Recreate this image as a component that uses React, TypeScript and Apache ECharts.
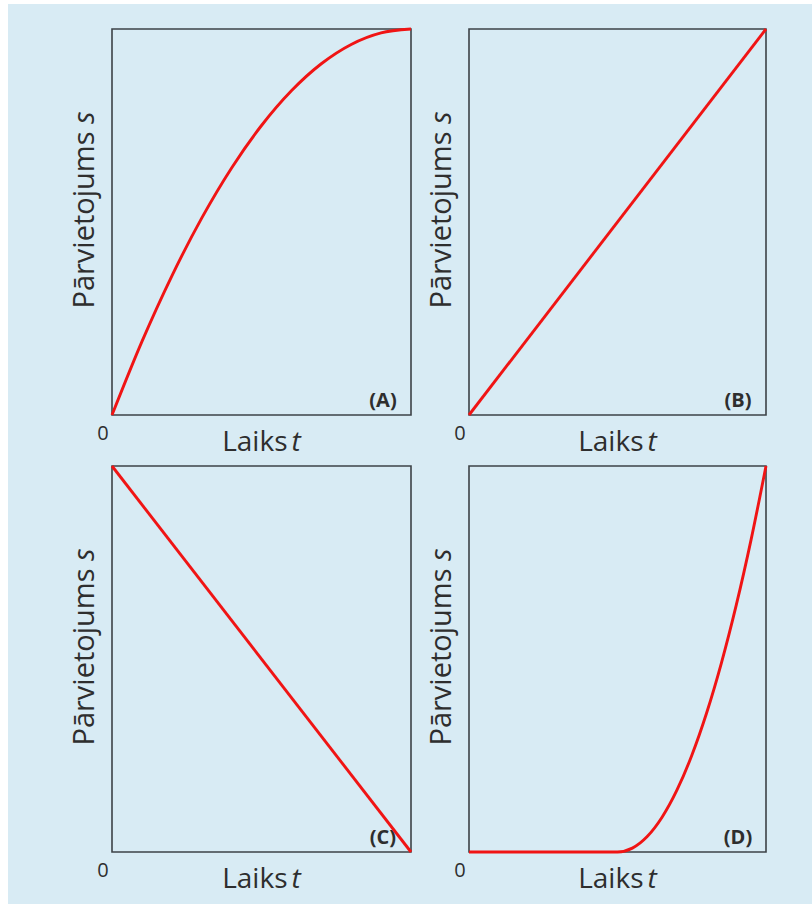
import React, { useEffect, useRef } from "react";
import * as echarts from "echarts";

// Panel (A): displacement rising and levelling off
const tA = [0, 0.1, 0.2, 0.3, 0.4, 0.5, 0.6, 0.7, 0.8, 0.9, 1];
const sA = [0, 0.19, 0.36, 0.51, 0.64, 0.75, 0.84, 0.91, 0.96, 0.99, 1];

// Panel (B): steady increase
const tB = [0, 1];
const sB = [0, 1];

// Panel (C): steady decrease
const tC = [0, 1];
const sC = [1, 0];

// Panel (D): at rest, then accelerating
const tD = [0, 0.5, 0.55, 0.6, 0.65, 0.7, 0.75, 0.8, 0.85, 0.9, 0.95, 1];
const sD = [0, 0, 0.01, 0.04, 0.09, 0.16, 0.25, 0.36, 0.49, 0.64, 0.81, 1];

const panelLetters = ["(A)", "(B)", "(C)", "(D)"];
const xName = "Laiks";
const xSymbol = "t";
const yName = "Pārvietojums";
const ySymbol = "s";
const originLabel = "0";

const FONT = "'Open Sans', 'Noto Sans', sans-serif";
const TEXT = "#2e2e2e";
const RED = "#f01414";

const grids = [
  { left: 112, top: 29, width: 299, height: 386 },
  { left: 469, top: 29, width: 297, height: 386 },
  { left: 112, top: 466, width: 299, height: 386 },
  { left: 469, top: 466, width: 297, height: 386 },
];

const curves = [
  [tA, sA],
  [tB, sB],
  [tC, sC],
  [tD, sD],
];

function nameStyle(size: number, gap: number) {
  return {
    n: { fontFamily: FONT, fontSize: size, color: TEXT },
    g: { fontFamily: FONT, fontSize: gap, color: TEXT },
    i: { fontFamily: FONT, fontSize: size, color: TEXT, fontStyle: "italic" },
  };
}

export default function App() {
  const ref = useRef<HTMLDivElement>(null);

  useEffect(() => {
    if (!ref.current) return;
    const chart = echarts.init(ref.current, null, { renderer: "svg" });

    const graphics: any[] = [
      {
        type: "rect",
        z: -10,
        shape: { x: 8, y: 4, width: 804, height: 900 },
        style: { fill: "#d8ebf4" },
        silent: true,
      },
    ];

    grids.forEach((g, i) => {
      graphics.push({
        type: "text",
        z: 1,
        x: g.left - 9,
        y: g.top + g.height + 17,
        style: {
          text: originLabel,
          fontFamily: FONT,
          fontSize: 20,
          fill: TEXT,
          align: "center",
          verticalAlign: "middle",
        },
      });
      graphics.push({
        type: "text",
        z: 1,
        x: g.left + g.width - 28,
        y: g.top + g.height - 16,
        style: {
          text: panelLetters[i],
          fontFamily: FONT,
          fontSize: 20,
          fontWeight: "bold",
          fill: TEXT,
          align: "center",
          verticalAlign: "middle",
        },
      });
    });

    chart.setOption({
      animation: false,
      backgroundColor: "transparent",
      grid: grids.map((g) => ({
        ...g,
        show: true,
        backgroundColor: "transparent",
        borderColor: "#3d4347",
        borderWidth: 1.6,
        containLabel: false,
      })),
      xAxis: grids.map((_, i) => ({
        type: "value",
        gridIndex: i,
        min: 0,
        max: 1,
        axisLine: { show: false },
        axisTick: { show: false },
        axisLabel: { show: false },
        splitLine: { show: false },
        name: `{n|${xName}}{g| }{i|${xSymbol}}`,
        nameLocation: "middle",
        nameGap: 11,
        nameTextStyle: { rich: nameStyle(28, 16) },
      })),
      yAxis: grids.map((_, i) => ({
        type: "value",
        gridIndex: i,
        min: 0,
        max: 1,
        axisLine: { show: false },
        axisTick: { show: false },
        axisLabel: { show: false },
        splitLine: { show: false },
        name: `{n|${yName}}{g| }{i|${ySymbol}}`,
        nameLocation: "middle",
        nameGap: 15,
        nameTextStyle: { rich: nameStyle(29, 29), padding: [0, 0, 0, 24] },
      })),
      series: curves.map(([ts, ss], i) => ({
        type: "line",
        xAxisIndex: i,
        yAxisIndex: i,
        data: ts.map((t, k) => [t, ss[k]]),
        showSymbol: false,
        smooth: i === 0 || i === 3 ? 0.3 : false,
        clip: false,
        z: 3,
        lineStyle: { color: RED, width: 2.9 },
      })),
      graphic: graphics,
    });

    return () => chart.dispose();
  }, []);

  return (
    <div
      ref={ref}
      style={{ position: "absolute", left: 0, top: 0, width: 812, height: 904 }}
    />
  );
}
